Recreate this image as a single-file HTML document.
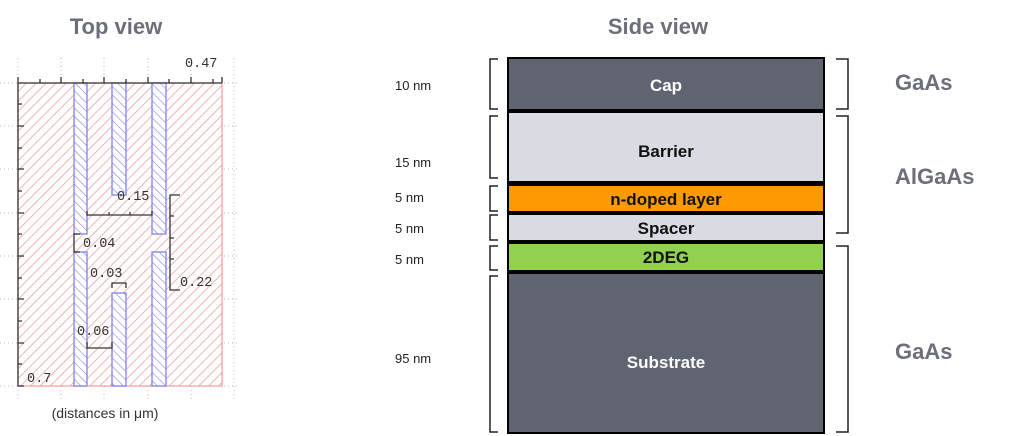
<!DOCTYPE html>
<html><head><meta charset="utf-8"><style>
html,body{margin:0;padding:0;background:#fff;width:1024px;height:436px;overflow:hidden}
</style></head><body>
<svg width="1024" height="436" xmlns="http://www.w3.org/2000/svg" font-family="Liberation Sans, sans-serif">
<defs>
<pattern id="red" patternUnits="userSpaceOnUse" width="7" height="7" patternTransform="rotate(45)">
<rect width="7" height="7" fill="#fff"/><line x1="0" y1="0" x2="0" y2="7" stroke="#f59a9a" stroke-width="1.5"/></pattern>
<pattern id="blue" patternUnits="userSpaceOnUse" width="6" height="6" patternTransform="rotate(-45)">
<rect width="6" height="6" fill="#fff"/><line x1="0" y1="0" x2="0" y2="6" stroke="#8080ee" stroke-width="1.2"/></pattern>
</defs>
<text x="116" y="34" font-size="22" font-weight="bold" fill="#6b6f7a" text-anchor="middle">Top view</text>
<text x="658" y="34" font-size="22" font-weight="bold" fill="#6b6f7a" text-anchor="middle">Side view</text>
<g stroke="#bbb" stroke-dasharray="1,3" stroke-width="1">
<line x1="18" y1="58" x2="18" y2="400"/><line x1="61" y1="58" x2="61" y2="400"/><line x1="104" y1="58" x2="104" y2="400"/><line x1="148" y1="58" x2="148" y2="400"/><line x1="191" y1="58" x2="191" y2="400"/><line x1="234" y1="58" x2="234" y2="400"/>
<line x1="0" y1="83" x2="240" y2="83"/><line x1="0" y1="126" x2="240" y2="126"/><line x1="0" y1="169" x2="240" y2="169"/><line x1="0" y1="213" x2="240" y2="213"/><line x1="0" y1="256" x2="240" y2="256"/><line x1="0" y1="299" x2="240" y2="299"/><line x1="0" y1="343" x2="240" y2="343"/><line x1="0" y1="386" x2="240" y2="386"/>
</g>
<rect x="18" y="83" width="204" height="303" fill="url(#red)" stroke="#f59a9a" stroke-width="1.2"/>
<g fill="url(#blue)" stroke="#8080f0" stroke-width="1.3">
<rect x="74" y="83" width="13" height="151"/><rect x="74" y="252" width="13" height="134"/>
<rect x="112" y="83" width="14" height="112"/><rect x="112" y="293" width="14" height="93"/>
<rect x="152" y="83" width="14" height="151"/><rect x="152" y="252" width="14" height="134"/>
</g>
<g stroke="#333" stroke-width="1.3" fill="none">
<line x1="18" y1="83" x2="222" y2="83"/><line x1="18" y1="83" x2="18" y2="386"/>
<line x1="18" y1="386" x2="24" y2="386"/>
<path d="M18 83v-6M40 83v-4M61 83v-6M83 83v-4M104 83v-6M126 83v-4M148 83v-6M169 83v-4M191 83v-6M213 83v-4M222 83v-6"/>
<path d="M18 104h4M18 126h6M18 148h4M18 169h6M18 191h4M18 213h6M18 234h4M18 256h6M18 278h4M18 299h6M18 321h4M18 343h6M18 364h4"/>
<path d="M87 211v4h65v-4M109 215v-3M130 215v-3"/>
<path d="M180 195h-10v95h10M170 216h4M170 238h4M170 259h4"/>
<path d="M80 234h-6v18h6"/>
<path d="M112 288v-5h14v5"/>
<path d="M87 342v6h25v-6"/>
</g>
<g font-family="Liberation Mono, monospace" font-size="13.5" fill="#333">
<text x="185" y="67">0.47</text>
<text x="117" y="200">0.15</text>
<text x="83" y="247">0.04</text>
<text x="90" y="277">0.03</text>
<text x="77" y="335">0.06</text>
<text x="180" y="286">0.22</text>
<text x="27" y="382">0.7</text>
</g>
<text x="105" y="418" font-size="14" fill="#333" text-anchor="middle">(distances in μm)</text>
<rect x="507" y="57" width="318" height="377" fill="#000"/>
<rect x="509" y="59" width="314" height="50" fill="#5f6470"/>
<rect x="509" y="113" width="314" height="68" fill="#d9dbe3"/>
<rect x="509" y="186" width="314" height="25" fill="#ff9900"/>
<rect x="509" y="215" width="314" height="25" fill="#d9dbe3"/>
<rect x="509" y="244" width="314" height="26" fill="#92d050"/>
<rect x="509" y="274" width="314" height="158" fill="#5f6470"/>
<g font-size="17" font-weight="bold" text-anchor="middle">
<text x="666" y="91" fill="#fff">Cap</text>
<text x="666" y="157" fill="#111">Barrier</text>
<text x="666" y="205" fill="#111">n-doped layer</text>
<text x="666" y="234" fill="#111">Spacer</text>
<text x="666" y="263" fill="#111">2DEG</text>
<text x="666" y="368" fill="#fff">Substrate</text>
</g>
<g font-size="13" fill="#222">
<text x="395" y="90">10 nm</text>
<text x="395" y="167">15 nm</text>
<text x="395" y="202">5 nm</text>
<text x="395" y="233">5 nm</text>
<text x="395" y="264">5 nm</text>
<text x="395" y="363">95 nm</text>
</g>
<g stroke="#222" stroke-width="1.5" fill="none">
<path d="M498 59h-8v50h8"/><path d="M498 116h-8v62h8"/><path d="M498 186h-8v25h8"/><path d="M498 215h-8v25h8"/><path d="M498 246h-8v24h8"/><path d="M498 276h-8v156h8"/>
<path d="M836 59h12v50h-12"/><path d="M836 116h12v117h-12"/><path d="M836 246h12v186h-12"/>
</g>
<g font-size="22" font-weight="bold" fill="#6b6f7a">
<text x="895" y="90">GaAs</text>
<text x="895" y="184">AlGaAs</text>
<text x="895" y="359">GaAs</text>
</g>
</svg>
</body></html>
